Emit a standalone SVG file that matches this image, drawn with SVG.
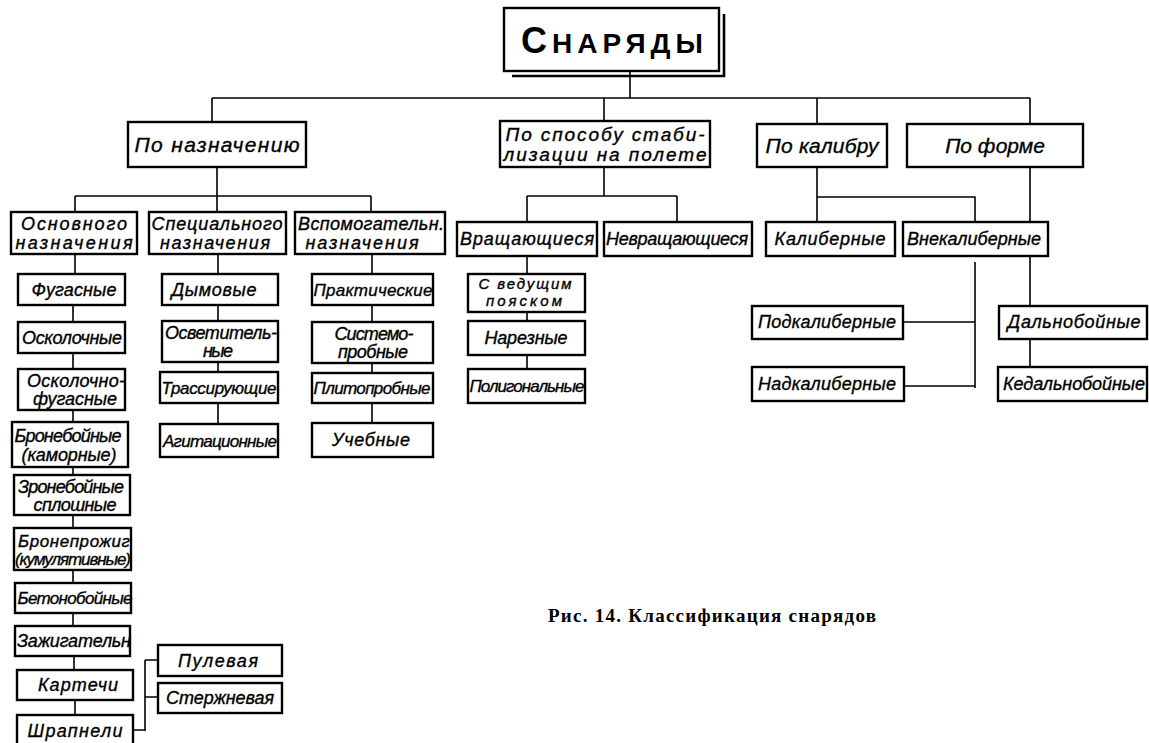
<svg xmlns="http://www.w3.org/2000/svg" width="1149" height="743" viewBox="0 0 1149 743">
<style>
.b{fill:#fff;stroke:#000;stroke-width:2.4}
.c{fill:none;stroke:#000;stroke-width:1.6}
.t{font-family:"Liberation Sans","DejaVu Sans",sans-serif;font-style:italic;font-size:18px;text-anchor:middle;fill:#000;stroke:#000;stroke-width:0.35}
.s{font-size:17px}
.xs{font-size:15px}
.l{font-size:21px}
.m{font-size:19px}
.ti{font-family:"Liberation Sans","DejaVu Sans",sans-serif;font-weight:bold;text-anchor:middle;fill:#000}
.cap{font-family:"Liberation Serif","DejaVu Serif",serif;font-weight:bold;font-size:19px;fill:#000}
</style>
<rect width="1149" height="743" fill="#fff"/>
<g id="connectors">
<path class="c" d="M630 72V98M212 98H1030M212 98V122M604 98V121M817 98V124M1030 98V124"/>
<path class="c" d="M217 167V212M75 196H371M75 196V212M371 196V212"/>
<path class="c" d="M604 167V196M527 196H677M527 196V222M677 196V222"/>
<path class="c" d="M817 167V222M817 197H975V222"/>
<path class="c" d="M1030 167V306M1030 339V367"/>
<path class="c" d="M975 262V388M903 322H975M904 386H975"/>
<path class="c" d="M527 256V274M527 312V321M527 355V369"/>
<path class="c" d="M75 254V274M73 305V322M73 353V369M73 410V422M73 467V475M73 515V528M73 570V583M73 613V626M74 656V670M75 700V715"/>
<path class="c" d="M218 254V274M218 305V321M218 362V372M218 403V424"/>
<path class="c" d="M372 254V274M372 305V322M372 363V373M372 403V423"/>
<path class="c" d="M133 730H145M145 660V731M145 660H158M145 697H158"/>
</g>
<g id="title">
<rect class="b" x="504" y="8" width="215" height="63" stroke-width="3"/>
<path d="M512 76H724V14" fill="none" stroke="#000" stroke-width="2.6"/>
<text class="ti" x="612" y="53" textLength="182" lengthAdjust="spacing"><tspan font-size="36">С</tspan><tspan font-size="28">НАРЯДЫ</tspan></text>
</g>
<g id="po-naznacheniyu"><rect class="b" x="128" y="122" width="178" height="45"/><text class="t l" x="217" y="152" textLength="165">По назначению</text></g>
<g id="po-stabilizacii"><rect class="b" x="500" y="121" width="210" height="46"/><text class="t m" x="605" y="141" textLength="199">По способу стаби-</text><text class="t m" x="605" y="161" textLength="203">лизации на полете</text></g>
<g id="po-kalibru"><rect class="b" x="757" y="124" width="130" height="43"/><text class="t l" x="822" y="153" textLength="113">По калибру</text></g>
<g id="po-forme"><rect class="b" x="907" y="124" width="176" height="43"/><text class="t l" x="995" y="153">По форме</text></g>

<g id="osnovnogo"><rect class="b" x="11" y="212" width="126" height="42"/><text class="t" x="74" y="230" textLength="106">Основного</text><text class="t" x="74" y="249" textLength="117">назначения</text></g>
<g id="specialnogo"><rect class="b" x="149" y="212" width="137" height="42"/><text class="t" x="217" y="230" textLength="131">Специального</text><text class="t" x="215" y="249" textLength="110">назначения</text></g>
<g id="vspomogateln"><rect class="b" x="295" y="212" width="150" height="42"/><text class="t" x="371" y="230" textLength="146">Вспомогательн.</text><text class="t" x="362" y="249" textLength="113">назначения</text></g>

<g id="fugasnye"><rect class="b" x="18" y="274" width="107" height="31"/><text class="t" x="74" y="296" textLength="85">Фугасные</text></g>
<g id="oskolochnye"><rect class="b" x="18" y="322" width="107" height="31"/><text class="t" x="72" y="344" textLength="100">Осколочные</text></g>
<g id="oskolochno-fugasnye"><rect class="b" x="18" y="369" width="107" height="41"/><text class="t" x="76" y="387" textLength="98">Осколочно-</text><text class="t" x="75" y="405" textLength="84">фугасные</text></g>
<g id="broneboynye-kamornye"><rect class="b" x="12" y="422" width="116" height="45"/><text class="t" x="68" y="442" textLength="107">Бронебойные</text><text class="t" x="69" y="461" textLength="95">(каморные)</text></g>
<g id="broneboynye-sploshnye"><rect class="b" x="14" y="475" width="116" height="40"/><text class="t" x="71" y="493" textLength="106">Зронебойные</text><text class="t" x="75" y="511" textLength="83">сплошные</text></g>
<g id="broneprozhig"><rect class="b" x="14" y="528" width="117" height="42"/><text class="t s" x="74" y="547" textLength="112">Бронепрожиг</text><text class="t s" x="73" y="565" textLength="116">(кумулятивные)</text></g>
<g id="betonoboynye"><rect class="b" x="15" y="583" width="116" height="30"/><text class="t s" x="75" y="604" textLength="115">Бетонобойные</text></g>
<g id="zazhigateln"><rect class="b" x="15" y="626" width="115" height="30"/><text class="t" x="74" y="647" textLength="114">Зажигательн</text></g>
<g id="kartechi"><rect class="b" x="17" y="670" width="116" height="30"/><text class="t" x="78" y="691" textLength="80">Картечи</text></g>
<g id="shrapneli"><rect class="b" x="17" y="715" width="116" height="32"/><text class="t" x="75" y="737" textLength="95">Шрапнели</text></g>
<g id="pulevaya"><rect class="b" x="158" y="645" width="124" height="31"/><text class="t" x="218" y="667" textLength="80">Пулевая</text></g>
<g id="sterzhnevaya"><rect class="b" x="158" y="683" width="124" height="30"/><text class="t" x="220" y="704" textLength="108">Стержневая</text></g>

<g id="dymovye"><rect class="b" x="162" y="274" width="116" height="31"/><text class="t" x="214" y="296" textLength="85">Дымовые</text></g>
<g id="osvetitelnye"><rect class="b" x="162" y="321" width="116" height="41"/><text class="t" x="221" y="339" textLength="112">Осветитель-</text><text class="t" x="218" y="357" textLength="30">ные</text></g>
<g id="trassiruyushchie"><rect class="b" x="160" y="372" width="118" height="31"/><text class="t s" x="219" y="394" textLength="115">Трассирующие</text></g>
<g id="agitacionnye"><rect class="b" x="160" y="424" width="118" height="33"/><text class="t s" x="220" y="447" textLength="114">Агитационные</text></g>

<g id="prakticheskie"><rect class="b" x="312" y="274" width="121" height="31"/><text class="t s" x="373" y="296" textLength="119">Практические</text></g>
<g id="sistemoprobnye"><rect class="b" x="312" y="322" width="121" height="41"/><text class="t" x="374" y="340" textLength="79">Системо-</text><text class="t" x="373" y="358" textLength="70">пробные</text></g>
<g id="plitoprobnye"><rect class="b" x="312" y="373" width="121" height="30"/><text class="t s" x="372" y="394" textLength="117">Плитопробные</text></g>
<g id="uchebnye"><rect class="b" x="312" y="423" width="121" height="34"/><text class="t" x="371" y="446" textLength="78">Учебные</text></g>

<g id="vrashchayushchiesya"><rect class="b" x="457" y="222" width="140" height="34"/><text class="t" x="527" y="245" textLength="134">Вращающиеся</text></g>
<g id="nevrashchayushchiesya"><rect class="b" x="604" y="222" width="148" height="34"/><text class="t" x="677" y="245" textLength="142">Невращающиеся</text></g>
<g id="s-vedushchim"><rect class="b" x="468" y="274" width="117" height="38"/><text class="t xs" x="525" y="289" textLength="93">С ведущим</text><text class="t xs" x="524" y="306" textLength="76">пояском</text></g>
<g id="nareznye"><rect class="b" x="468" y="321" width="117" height="34"/><text class="t" x="526" y="344" textLength="83">Нарезные</text></g>
<g id="poligonalnye"><rect class="b" x="468" y="369" width="117" height="34"/><text class="t s" x="527" y="392" textLength="115">Полигональные</text></g>

<g id="kalibernye"><rect class="b" x="766" y="222" width="129" height="34"/><text class="t" x="830" y="245" textLength="111">Калиберные</text></g>
<g id="vnekalibernye"><rect class="b" x="903" y="222" width="145" height="34"/><text class="t" x="974" y="245" textLength="134">Внекалиберные</text></g>
<g id="podkalibernye"><rect class="b" x="752" y="306" width="151" height="33"/><text class="t" x="827" y="328" textLength="138">Подкалиберные</text></g>
<g id="nadkalibernye"><rect class="b" x="752" y="367" width="152" height="34"/><text class="t" x="827" y="390" textLength="138">Надкалиберные</text></g>
<g id="dalnoboynye"><rect class="b" x="999" y="306" width="148" height="33"/><text class="t" x="1074" y="328" textLength="133">Дальнобойные</text></g>
<g id="nedalnoboynye"><rect class="b" x="998" y="367" width="149" height="34"/><text class="t" x="1074" y="390" textLength="142">Кедальнобойные</text></g>

<text class="cap" x="548" y="622" textLength="328" lengthAdjust="spacing">Рис. 14. Классификация снарядов</text>
</svg>
